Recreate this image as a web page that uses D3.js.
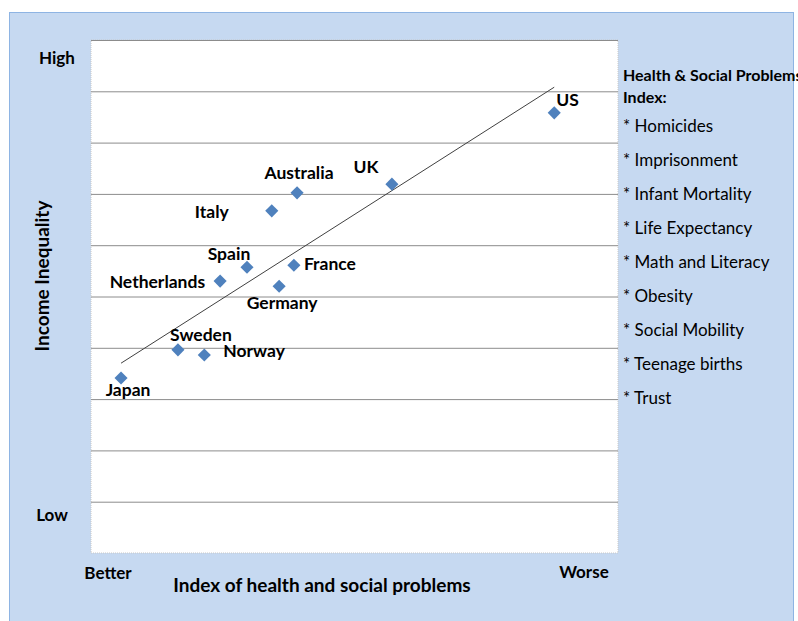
<!DOCTYPE html>
<html>
<head>
<meta charset="utf-8">
<script src="https://cdn.jsdelivr.net/npm/d3@7"></script>
<style>
  body { margin: 0; background: #fff; }
  text { font-family: Lato, "Open Sans", sans-serif; fill: #000; }
</style>
</head>
<body>
<svg id="canvas" width="798" height="621"></svg>
<script>
// data (0..10 scale on both axes)
let countries = ["Japan", "Sweden", "Norway", "Netherlands", "Spain", "Germany", "France", "Italy", "Australia", "UK", "US"]
let healthIndex = [0.57, 1.65, 2.15, 2.45, 2.96, 3.57, 3.85, 3.43, 3.91, 5.71, 8.79]
let inequality = [3.41, 3.96, 3.86, 5.30, 5.57, 5.20, 5.61, 6.67, 7.02, 7.19, 8.58]
let trendX = [0.57, 8.79]
let trendY = [3.70, 9.08]
let legendItems = ["* Homicides", "* Imprisonment", "* Infant Mortality", "* Life Expectancy", "* Math and Literacy", "* Obesity", "* Social Mobility", "* Teenage births", "* Trust"]

// where each label sits relative to its point: dx, dy, anchor
let labelPlace = {
  Japan: [7, 18, 'middle'],
  Sweden: [23, -9, 'middle'],
  Norway: [19, 2, 'start'],
  Netherlands: [-15, 7, 'end'],
  Spain: [-18, -7, 'middle'],
  Germany: [3, 23, 'middle'],
  France: [10, 5, 'start'],
  Italy: [-43, 7, 'end'],
  Australia: [2, -14, 'middle'],
  UK: [-26, -11, 'middle'],
  US: [2, -7, 'start']
}

let svg = d3.select('#canvas')

// chart background
svg.append('rect')
   .attr('x', 9.5).attr('y', 12.5)
   .attr('width', 784).attr('height', 620)
   .attr('fill', '#c6d9f1')
   .attr('stroke', '#8eb4e3')

let plotL = 91, plotT = 40, plotR = 618, plotB = 553

let x = d3.scaleLinear().domain([0, 10]).range([plotL, plotR])
let y = d3.scaleLinear().domain([0, 10]).range([plotB, plotT])

svg.append('rect')
   .attr('x', plotL).attr('y', plotT)
   .attr('width', plotR - plotL).attr('height', plotB - plotT)
   .attr('fill', '#fff')
   .attr('stroke', '#c8c8c8')
   .attr('stroke-dasharray', '1,1')

// gridlines
let grid = svg.append('g')
   .attr('transform', 'translate(' + plotL + ',0)')
   .call(d3.axisLeft(y).ticks(10).tickSize(-(plotR - plotL)).tickFormat(''))
grid.select('.domain').remove()
grid.selectAll('.tick line')
    .attr('stroke', '#8c8c8c')
    .attr('stroke-width', 1)
grid.selectAll('.tick')
    .filter((d) => d === 0)
    .remove()

// trend line
svg.append('line')
   .attr('x1', x(trendX[0])).attr('y1', y(trendY[0]))
   .attr('x2', x(trendX[1])).attr('y2', y(trendY[1]))
   .attr('stroke', '#404040')
   .attr('stroke-width', 1)

let points = countries.map((c, i) => ({ name: c, hx: healthIndex[i], iy: inequality[i] }))

// diamonds: squares turned 45 degrees
svg.selectAll('path.pt')
   .data(points)
   .enter()
   .append('path')
   .attr('class', 'pt')
   .attr('d', d3.symbol().type(d3.symbolSquare).size(86))
   .attr('transform', (d) => 'translate(' + x(d.hx) + ',' + y(d.iy) + ') rotate(45)')
   .attr('fill', '#4f81bd')

svg.selectAll('text.lbl')
   .data(points)
   .enter()
   .append('text')
   .attr('class', 'lbl')
   .attr('x', (d) => x(d.hx) + labelPlace[d.name][0])
   .attr('y', (d) => y(d.iy) + labelPlace[d.name][1])
   .attr('text-anchor', (d) => labelPlace[d.name][2])
   .attr('font-size', 17.5)
   .attr('font-weight', 'bold')
   .text((d) => d.name)

// axis end labels
let endLabels = [["High", 57, 64], ["Low", 52, 521], ["Better", 108, 579], ["Worse", 584, 578]]
svg.selectAll('text.end')
   .data(endLabels)
   .enter()
   .append('text')
   .attr('x', (d) => d[1]).attr('y', (d) => d[2])
   .attr('text-anchor', 'middle')
   .attr('font-size', 17)
   .attr('font-weight', 'bold')
   .text((d) => d[0])

svg.append('text')
   .attr('x', 322).attr('y', 592)
   .attr('text-anchor', 'middle')
   .attr('font-size', 19)
   .attr('font-weight', 'bold')
   .text('Index of health and social problems')

svg.append('text')
   .attr('transform', 'translate(49,276) rotate(-90)')
   .attr('text-anchor', 'middle')
   .attr('font-size', 19)
   .attr('font-weight', 'bold')
   .text('Income Inequality')

// legend box text
svg.append('text')
   .attr('x', 623).attr('y', 81)
   .attr('font-size', 16)
   .attr('font-weight', 'bold')
   .text('Health & Social Problems')
svg.append('text')
   .attr('x', 623).attr('y', 103)
   .attr('font-size', 16)
   .attr('font-weight', 'bold')
   .text('Index:')

svg.selectAll('text.leg')
   .data(legendItems)
   .enter()
   .append('text')
   .attr('class', 'leg')
   .attr('x', 623)
   .attr('y', (d, i) => 132 + i * 34)
   .attr('font-size', 17)
   .text((d) => d)
</script>
</body>
</html>
